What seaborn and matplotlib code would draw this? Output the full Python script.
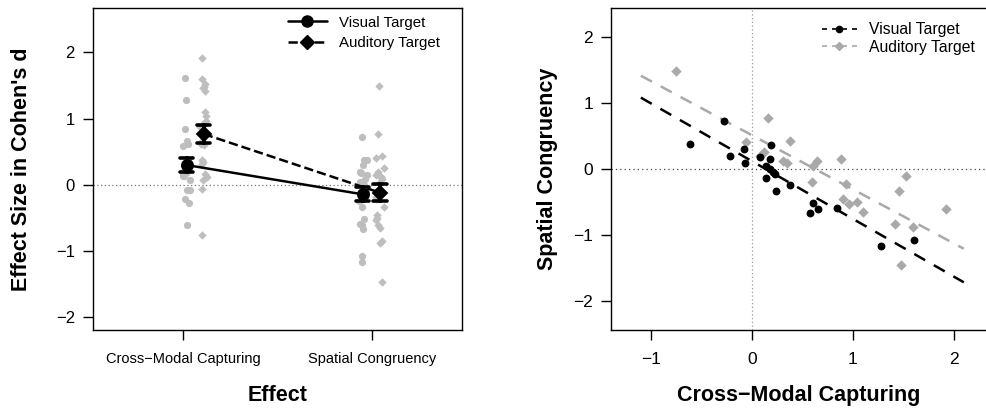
import numpy as np
import pandas as pd
import matplotlib
matplotlib.use("Agg")
import matplotlib.pyplot as plt
from matplotlib.lines import Line2D
import seaborn as sns

sns.set_style("white")
plt.rcParams['font.family'] = ['Liberation Sans', 'DejaVu Sans']
plt.rcParams.update({"text.color": "black", "axes.labelcolor": "black",
                     "xtick.color": "black", "ytick.color": "black"})

# ---- data (per participant effect sizes, Cohen's d) ----
vis_cm = [-0.61, -0.28, -0.22, -0.08, -0.07, 0.08, 0.14, 0.14, 0.19, 0.18, 0.18,
          0.21, 0.23, 0.24, 0.38, 0.61, 0.58, 0.66, 0.84, 1.28, 1.61]
vis_sc = [0.38, 0.72, 0.19, 0.30, 0.09, 0.18, 0.05, -0.13, 0.37, 0.15, 0.00,
          -0.04, -0.08, -0.33, -0.24, -0.52, -0.66, -0.60, -0.59, -1.16, -1.07]
aud_cm = [-0.75, -0.06, 0.08, 0.12, 0.16, 0.38, 0.31, 0.35, 0.61, 0.65, 0.60, 0.88,
          0.93, 0.90, 0.96, 1.04, 1.10, 1.53, 1.46, 1.42, 1.60, 1.48, 1.92]
aud_sc = [1.49, 0.41, 0.20, 0.26, 0.77, 0.43, 0.12, 0.09, 0.05, 0.12, -0.19, 0.15,
          -0.22, -0.46, -0.53, -0.50, -0.65, -0.10, -0.34, -0.84, -0.88, -1.46, -0.61]

effects = ["Cross\u2212Modal Capturing", "Spatial Congruency"]
targets = ["Visual Target", "Auditory Target"]
y_ticks = [-2, -1, 0, 1, 2]
x_ticks_right = [-1, 0, 1, 2]

# ---- styling / positions ----
cat_pos = {effects[0]: 1.0, effects[1]: 2.0}
dodge_pos = {("Visual Target", effects[0]): 1.02, ("Visual Target", effects[1]): 1.951,
             ("Auditory Target", effects[0]): 1.11, ("Auditory Target", effects[1]): 2.042}
LGRAY = "#BEBEBE"
DGRAY = "#A9A9A9"

def long_df(target, cm, sc):
    return pd.DataFrame({
        "target": target,
        "effect": [effects[0]] * len(cm) + [effects[1]] * len(sc),
        "value": list(cm) + list(sc),
    }).assign(pos=lambda d: [dodge_pos[(target, e)] for e in d["effect"]])

df_vis = long_df("Visual Target", vis_cm, vis_sc)
df_aud = long_df("Auditory Target", aud_cm, aud_sc)

def minus(t):
    return f"{t}".replace("-", "\u2212")

W, H = 987, 415
fig = plt.figure(figsize=(W / 100, H / 100), dpi=100)
ax1 = fig.add_axes([93 / W, 1 - 330 / H, (462 - 93) / W, (330 - 8) / H])
ax2 = fig.add_axes([611 / W, 1 - 330 / H, (W - 611) / W, (330 - 8) / H])

# ---------------- left panel ----------------
np.random.seed(3)
ax1.axhline(0, color="#777777", ls=(0, (1, 2)), lw=0.9, zorder=0)
sns.stripplot(data=df_vis, x="pos", y="value", native_scale=True, orient="x",
              jitter=0.025, color=LGRAY, marker="o", size=5.2, linewidth=0,
              ax=ax1, zorder=1)
sns.stripplot(data=df_aud, x="pos", y="value", native_scale=True, orient="x",
              jitter=0.025, color=LGRAY, marker="D", size=4.3, linewidth=0,
              ax=ax1, zorder=1)
sns.pointplot(data=df_vis, x="pos", y="value", native_scale=True, orient="x",
              errorbar="se", capsize=0.075, color="black", markers="o",
              linestyles="-", linewidth=1.8, markersize=8,
              err_kws={"linewidth": 2.6}, ax=ax1)
sns.pointplot(data=df_aud, x="pos", y="value", native_scale=True, orient="x",
              errorbar="se", capsize=0.075, color="black", markers="D",
              linestyles="--", linewidth=1.8, markersize=7,
              err_kws={"linewidth": 2.6}, ax=ax1)

ax1.set_xlim(0.524, 2.476)
ax1.set_ylim(-2.19, 2.67)
ax1.set_xticks([cat_pos[e] for e in effects])
ax1.set_xticklabels(effects, fontsize=10.5)
ax1.set_yticks(y_ticks)
ax1.set_yticklabels([minus(t) for t in y_ticks], fontsize=12)
ax1.set_xlabel("Effect", fontsize=15.5, fontweight="bold")
ax1.set_ylabel("Effect Size in Cohen's d", fontsize=15.5, fontweight="bold")
ax1.xaxis.set_label_coords(0.5, -0.17)
ax1.yaxis.set_label_coords(-0.166, 0.5)
for s in ax1.spines.values():
    s.set_visible(True)
    s.set_color("black")
    s.set_linewidth(1.0)
ax1.tick_params(axis="both", direction="out", length=7, width=1, color="black",
                bottom=True, left=True)
ax1.tick_params(axis="x", pad=9)
ax1.tick_params(axis="y", pad=6)

h1 = [Line2D([], [], color="black", ls="-", lw=1.8, marker="o", markersize=8),
      Line2D([], [], color="black", ls="--", lw=1.8, marker="D", markersize=7)]
ax1.legend(h1, targets, loc="upper right", bbox_to_anchor=(0.96, 1.0), frameon=False,
           fontsize=10.8, handlelength=2.6, handletextpad=0.8, labelspacing=0.45,
           borderaxespad=0.1)

# ---------------- right panel ----------------
ax2.axhline(0, color="#444444", ls=(0, (1, 2.5)), lw=0.9, zorder=0)
ax2.axvline(0, color="#999999", ls=(0, (1, 2)), lw=0.9, zorder=0)
ax2.set_xlim(-1.1, 2.1)
sns.regplot(x=np.array(aud_cm), y=np.array(aud_sc), scatter=False, ci=None,
            truncate=False, color=DGRAY, line_kws={"ls": (0, (5, 4)), "lw": 1.8},
            ax=ax2)
sns.regplot(x=np.array(vis_cm), y=np.array(vis_sc), scatter=False, ci=None,
            truncate=False, color="black", line_kws={"ls": (0, (5, 4)), "lw": 1.8},
            ax=ax2)
sns.scatterplot(x=aud_cm, y=aud_sc, color=DGRAY, marker="D", s=28, linewidth=0,
                ax=ax2, zorder=3)
sns.scatterplot(x=vis_cm, y=vis_sc, color="black", marker="o", s=32, linewidth=0,
                ax=ax2, zorder=4)

ax2.set_xlim(-1.396, 2.33)
ax2.set_ylim(-2.44, 2.44)
ax2.set_xticks(x_ticks_right)
ax2.set_xticklabels([minus(t) for t in x_ticks_right], fontsize=12.5)
ax2.set_yticks(y_ticks)
ax2.set_yticklabels([minus(t) for t in y_ticks], fontsize=12.5)
ax2.set_xlabel("Cross\u2212Modal Capturing", fontsize=15.5, fontweight="bold")
ax2.set_ylabel("Spatial Congruency", fontsize=15.5, fontweight="bold")
ax2.xaxis.set_label_coords(0.5, -0.17)
ax2.yaxis.set_label_coords(-0.14, 0.5)
for k, s in ax2.spines.items():
    s.set_color("black")
    s.set_linewidth(1.0)
ax2.spines["right"].set_visible(False)
ax2.tick_params(axis="both", direction="out", length=7, width=1, color="black",
                bottom=True, left=True)
ax2.tick_params(axis="x", pad=9)
ax2.tick_params(axis="y", pad=6)

h2 = [Line2D([], [], color="black", ls=(0, (3, 3)), lw=1.2, marker="o", markersize=4.5),
      Line2D([], [], color=DGRAY, ls=(0, (3, 3)), lw=1.2, marker="D", markersize=4)]
ax2.legend(h2, targets, loc="upper left", bbox_to_anchor=(0.545, 0.975), frameon=False,
           fontsize=11.3, handlelength=2.2, handletextpad=0.8, labelspacing=0.15,
           borderaxespad=0.0)

fig.savefig("out.png", dpi=100)
